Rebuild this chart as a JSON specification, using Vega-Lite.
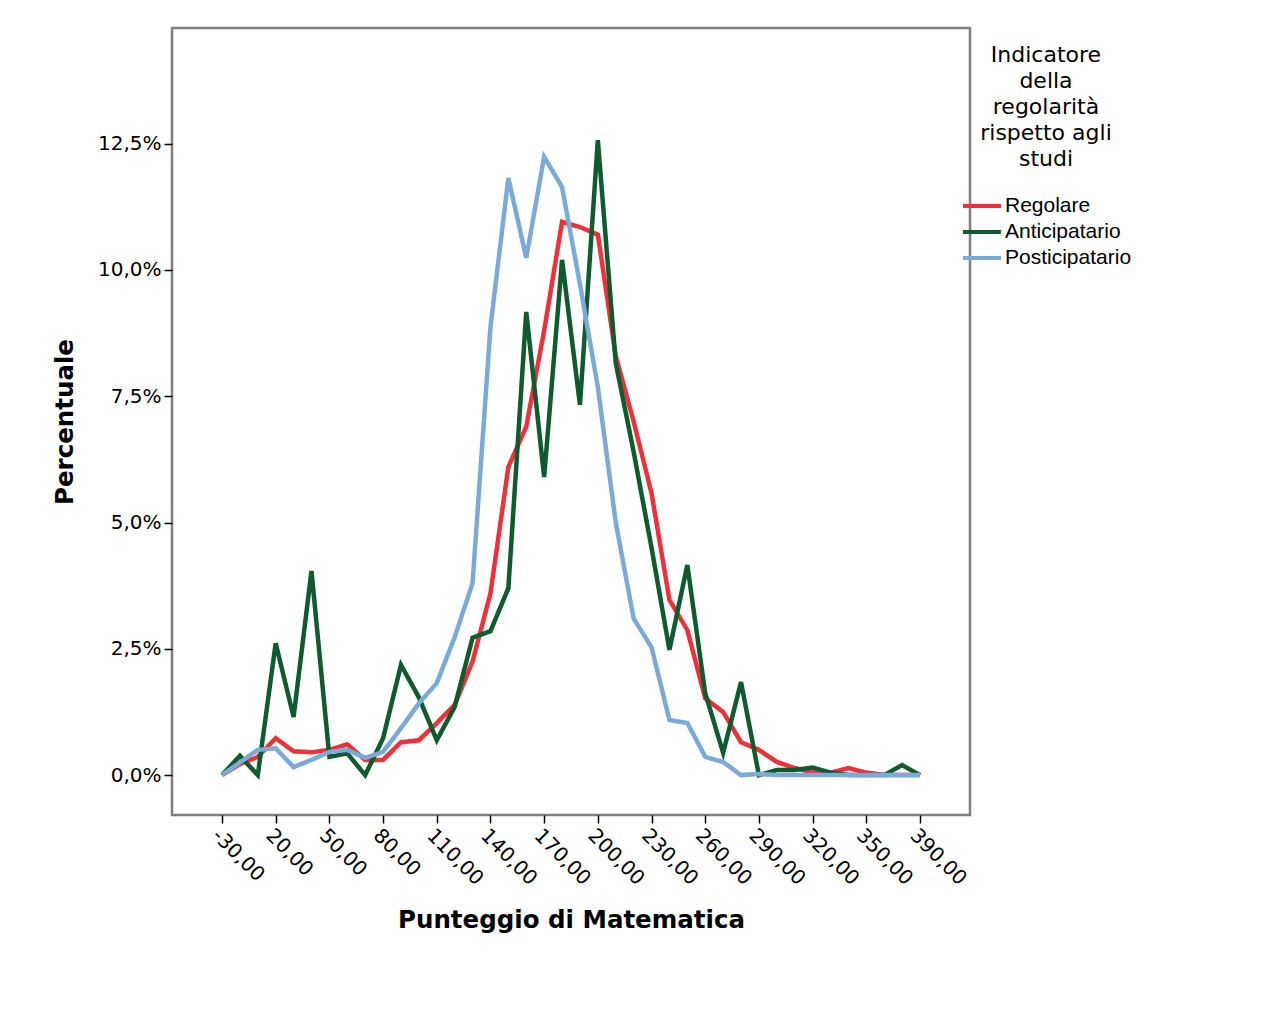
{
  "$schema": "https://vega.github.io/schema/vega-lite/v6.json",
  "width": 798,
  "height": 787,
  "autosize": {"type": "none"},
  "padding": {"left": 172, "top": 28, "right": 296, "bottom": 201},
  "background": "white",
  "config": {
    "locale": {"number": {"decimal": ",", "thousands": ".", "grouping": [3], "currency": ["€", ""], "minus": "-"}},
    "view": {"stroke": "#7f7f7f", "strokeWidth": 2.5},
    "axis": {
      "grid": false, "domain": false, "tickColor": "#000", "tickWidth": 1.5,
      "labelColor": "#000", "titleColor": "#000",
      "labelFont": "DejaVu Sans", "labelFontSize": 20,
      "titleFont": "DejaVu Sans", "titleFontSize": 24.5, "titleFontWeight": "bold",
      "tickSize": 8
    }
  },
  "data": {"values": [
    {"score": -30, "Regolare": 0, "Anticipatario": 0, "Posticipatario": 0},
    {"score": 0, "Regolare": 0.0022, "Anticipatario": 0.0038, "Posticipatario": 0.0025},
    {"score": 10, "Regolare": 0.0036, "Anticipatario": 0, "Posticipatario": 0.005},
    {"score": 20, "Regolare": 0.0073, "Anticipatario": 0.0261, "Posticipatario": 0.0053},
    {"score": 30, "Regolare": 0.0047, "Anticipatario": 0.0115, "Posticipatario": 0.0016},
    {"score": 40, "Regolare": 0.0045, "Anticipatario": 0.0404, "Posticipatario": 0.003},
    {"score": 50, "Regolare": 0.005, "Anticipatario": 0.0036, "Posticipatario": 0.0046},
    {"score": 60, "Regolare": 0.0061, "Anticipatario": 0.0043, "Posticipatario": 0.005},
    {"score": 70, "Regolare": 0.003, "Anticipatario": 0, "Posticipatario": 0.0034},
    {"score": 80, "Regolare": 0.003, "Anticipatario": 0.0073, "Posticipatario": 0.0046},
    {"score": 90, "Regolare": 0.0065, "Anticipatario": 0.0218, "Posticipatario": 0.0093},
    {"score": 100, "Regolare": 0.0069, "Anticipatario": 0.0154, "Posticipatario": 0.0142},
    {"score": 110, "Regolare": 0.0103, "Anticipatario": 0.0069, "Posticipatario": 0.0182},
    {"score": 120, "Regolare": 0.0139, "Anticipatario": 0.0135, "Posticipatario": 0.0273},
    {"score": 130, "Regolare": 0.0225, "Anticipatario": 0.0272, "Posticipatario": 0.038},
    {"score": 140, "Regolare": 0.036, "Anticipatario": 0.0285, "Posticipatario": 0.0887},
    {"score": 150, "Regolare": 0.061, "Anticipatario": 0.037, "Posticipatario": 0.1182},
    {"score": 160, "Regolare": 0.069, "Anticipatario": 0.0917, "Posticipatario": 0.1024},
    {"score": 170, "Regolare": 0.088, "Anticipatario": 0.059, "Posticipatario": 0.1224},
    {"score": 180, "Regolare": 0.1095, "Anticipatario": 0.102, "Posticipatario": 0.1164},
    {"score": 190, "Regolare": 0.1085, "Anticipatario": 0.0733, "Posticipatario": 0.0972},
    {"score": 200, "Regolare": 0.107, "Anticipatario": 0.1257, "Posticipatario": 0.0768},
    {"score": 210, "Regolare": 0.083, "Anticipatario": 0.0816, "Posticipatario": 0.05},
    {"score": 220, "Regolare": 0.07, "Anticipatario": 0.064, "Posticipatario": 0.031},
    {"score": 230, "Regolare": 0.0558, "Anticipatario": 0.045, "Posticipatario": 0.0253},
    {"score": 240, "Regolare": 0.0347, "Anticipatario": 0.0248, "Posticipatario": 0.0109},
    {"score": 250, "Regolare": 0.0287, "Anticipatario": 0.0416, "Posticipatario": 0.0103},
    {"score": 260, "Regolare": 0.0152, "Anticipatario": 0.0162, "Posticipatario": 0.0036},
    {"score": 270, "Regolare": 0.0125, "Anticipatario": 0.0044, "Posticipatario": 0.0026},
    {"score": 280, "Regolare": 0.0065, "Anticipatario": 0.0184, "Posticipatario": 0},
    {"score": 290, "Regolare": 0.005, "Anticipatario": 0, "Posticipatario": 0.0002},
    {"score": 300, "Regolare": 0.0026, "Anticipatario": 0.001, "Posticipatario": 0},
    {"score": 310, "Regolare": 0.0014, "Anticipatario": 0.001, "Posticipatario": 0},
    {"score": 320, "Regolare": 0.0005, "Anticipatario": 0.0015, "Posticipatario": 0},
    {"score": 330, "Regolare": 0.0005, "Anticipatario": 0.0005, "Posticipatario": 0},
    {"score": 340, "Regolare": 0.0014, "Anticipatario": 0, "Posticipatario": 0},
    {"score": 350, "Regolare": 0.0005, "Anticipatario": 0, "Posticipatario": 0},
    {"score": 360, "Regolare": 0, "Anticipatario": 0, "Posticipatario": 0},
    {"score": 370, "Regolare": 0, "Anticipatario": 0.002, "Posticipatario": 0},
    {"score": 390, "Regolare": 0, "Anticipatario": 0, "Posticipatario": 0}
  ]},
  "transform": [
    {"fold": ["Regolare", "Anticipatario", "Posticipatario"], "as": ["series", "pct"]}
  ],
  "mark": {"type": "line", "strokeWidth": 4.5, "interpolate": "linear"},
  "encoding": {
    "x": {
      "field": "score", "type": "ordinal", "sort": "ascending",
      "scale": {"type": "point", "padding": 0, "range": [50, 748]},
      "axis": {
        "title": "Punteggio di Matematica",
        "values": [-30, 20, 50, 80, 110, 140, 170, 200, 230, 260, 290, 320, 350, 390],
        "labelExpr": "replace(replace(format(datum.value, '.2f'), '.', ','), '\u2212', '-')",
        "labelAngle": 45, "labelAlign": "left", "labelBaseline": "top",
        "labelPadding": 2, "titlePadding": 20
      }
    },
    "y": {
      "field": "pct", "type": "quantitative",
      "scale": {"domain": [-0.0079, 0.1479], "nice": false, "zero": false},
      "axis": {
        "title": "Percentuale",
        "values": [0, 0.025, 0.05, 0.075, 0.1, 0.125],
        "format": ".1%", "labelPadding": 3, "titlePadding": 20
      }
    },
    "color": {
      "field": "series", "type": "nominal",
      "scale": {"domain": ["Regolare", "Anticipatario", "Posticipatario"], "range": ["#ee3038", "#0e5b2e", "#7aaada"]},
      "legend": {
        "orient": "none", "legendX": 789, "legendY": 17, "padding": 0,
        "title": ["Indicatore", "della", "regolarità", "rispetto agli", "studi"],
        "titleFont": "DejaVu Sans", "titleFontSize": 22, "titleFontWeight": "normal",
        "titleLineHeight": 26, "titleAnchor": "middle", "titleAlign": "center",
        "titleColor": "#000", "titlePadding": 20,
        "labelFont": "Liberation Sans", "labelFontSize": 21, "labelColor": "#000",
        "symbolType": "M-1,0H1.92", "symbolSize": 676, "symbolStrokeWidth": 4,
        "rowPadding": 1, "labelOffset": 14
      }
    }
  }
}
